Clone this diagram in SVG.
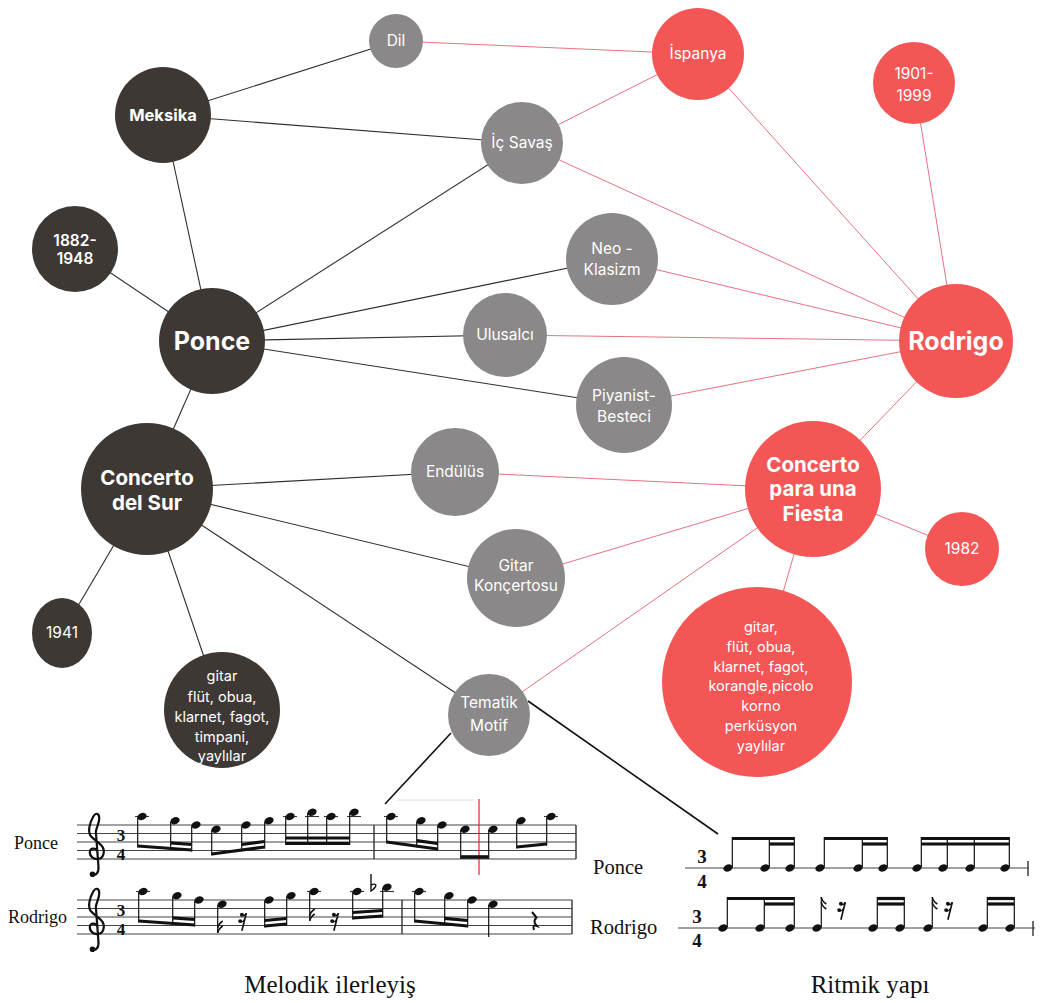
<svg xmlns="http://www.w3.org/2000/svg" xmlns:xlink="http://www.w3.org/1999/xlink" width="1041" height="1003" viewBox="0 0 1041 1003">
<style>
.dk{fill:#3e3834}
.gr{fill:#8a8888}
.rd{fill:#f45656}
.lb{font-family:Inter,"DejaVu Sans",sans-serif;fill:#fff;text-anchor:middle;font-size:15.5px}
.b{font-weight:700}
.ek{stroke:#2e2e2e;stroke-width:1.1}
.er{stroke:#e8727e;stroke-width:1}
.sl{stroke:#444;stroke-width:1.1}
.bar{stroke:#333;stroke-width:1.4}
.stem{stroke:#111;stroke-width:1.2}
.beam{stroke:#111;stroke-width:3.2}
.led{stroke:#333;stroke-width:1.1}
.fl{stroke:#111;stroke-width:1.6;fill:none}
.ser{font-family:"Liberation Serif",serif;fill:#111}
.ts{font-family:"Liberation Serif",serif;font-weight:700;fill:#111;text-anchor:middle}
.nh{fill:#111}
</style>
<defs>
<ellipse id="nh" rx="4.8" ry="3.5" transform="rotate(-22)"/>
<path id="clef" d="M3,3 C3,-3 -5,-4 -6,1 C-7,7 -1,11 4,10 C10,9 12,1 9,-4 C6,-9 -1,-12 -5,-17 C-9,-23 -6,-33 -2,-40 C1,-45 5,-44 5,-38 C5,-32 2,-28 1,-22 L4,18 C5,26 1,30 -3,28" fill="none" stroke="#111" stroke-width="2.6"/>
<g id="r16" fill="#111" stroke="#111">
<path d="M3,-8 L-1,8" stroke-width="1.5" fill="none"/>
<circle cx="-1" cy="-6.5" r="1.8" stroke="none"/>
<path d="M-1,-6 Q1.5,-5 3,-8" stroke-width="1.2" fill="none"/>
<circle cx="-2.6" cy="-0.8" r="1.8" stroke="none"/>
<path d="M-2.6,-0.3 Q0,0.5 1.5,-2.5" stroke-width="1.2" fill="none"/>
</g>
<path id="rq" d="M-1,-10 L3.5,-4.5 Q0.5,-1.5 2,1.5 L4,4 Q-1,2 1,8" fill="none" stroke="#111" stroke-width="2"/>
</defs>
<rect width="1041" height="1003" fill="#fff"/>

<g id="connectors" fill="none">
<g class="ek">
<line x1="163" y1="115" x2="396" y2="41"/>
<line x1="163" y1="115" x2="522" y2="143"/>
<line x1="163" y1="115" x2="212" y2="341"/>
<line x1="75" y1="249" x2="212" y2="341"/>
<line x1="212" y1="341" x2="522" y2="143"/>
<line x1="212" y1="341" x2="612" y2="259"/>
<line x1="212" y1="341" x2="505" y2="335"/>
<line x1="212" y1="341" x2="624" y2="405"/>
<line x1="212" y1="341" x2="147" y2="489"/>
<line x1="147" y1="489" x2="455" y2="472"/>
<line x1="147" y1="489" x2="516" y2="578"/>
<line x1="147" y1="489" x2="489" y2="715"/>
<line x1="147" y1="489" x2="62" y2="633"/>
<line x1="147" y1="489" x2="222" y2="710"/>
</g>
<g class="er">
<line x1="396" y1="41" x2="698" y2="54"/>
<line x1="522" y1="143" x2="698" y2="54"/>
<line x1="698" y1="54" x2="956" y2="341"/>
<line x1="522" y1="143" x2="956" y2="341"/>
<line x1="914" y1="83" x2="956" y2="341"/>
<line x1="612" y1="259" x2="956" y2="341"/>
<line x1="505" y1="335" x2="956" y2="341"/>
<line x1="624" y1="405" x2="956" y2="341"/>
<line x1="956" y1="341" x2="813" y2="489"/>
<line x1="455" y1="472" x2="813" y2="489"/>
<line x1="516" y1="578" x2="813" y2="489"/>
<line x1="489" y1="715" x2="813" y2="489"/>
<line x1="813" y1="489" x2="962" y2="549"/>
<line x1="813" y1="489" x2="757" y2="682"/>
</g>
</g>

<g id="n-dil"><circle class="gr" cx="396" cy="41" r="27"/><text class="lb" x="396" y="46">Dil</text></g>
<g id="n-ispanya"><circle class="rd" cx="698" cy="54" r="46"/><text class="lb" x="698" y="59">İspanya</text></g>
<g id="n-1901"><circle class="rd" cx="914" cy="83" r="41"/><text class="lb" x="914" y="79">1901-</text><text class="lb" x="914" y="101">1999</text></g>
<g id="n-meksika"><circle class="dk" cx="163" cy="115" r="48"/><text class="lb b" x="163" y="121" style="font-size:16.5px">Meksika</text></g>
<g id="n-icsavas"><circle class="gr" cx="522" cy="143" r="41"/><text class="lb" x="522" y="148">İç Savaş</text></g>
<g id="n-1882"><circle class="dk" cx="75" cy="249" r="43"/><text class="lb b" x="75" y="246" style="font-weight:600">1882-</text><text class="lb b" x="75" y="264" style="font-weight:600">1948</text></g>
<g id="n-neo"><circle class="gr" cx="612" cy="259" r="46"/><text class="lb" x="612" y="254">Neo -</text><text class="lb" x="612" y="275">Klasizm</text></g>
<g id="n-ponce"><circle class="dk" cx="212" cy="341" r="53"/><text class="lb b" x="212" y="350" style="font-size:25px">Ponce</text></g>
<g id="n-ulusalci"><circle class="gr" cx="505" cy="335" r="42"/><text class="lb" x="505" y="340">Ulusalcı</text></g>
<g id="n-rodrigo"><circle class="rd" cx="956" cy="341" r="57"/><text class="lb b" x="956" y="350" style="font-size:25px">Rodrigo</text></g>
<g id="n-piyanist"><circle class="gr" cx="624" cy="405" r="48"/><text class="lb" x="624" y="401">Piyanist-</text><text class="lb" x="624" y="422">Besteci</text></g>
<g id="n-cds"><circle class="dk" cx="147" cy="489" r="66"/><text class="lb b" x="147" y="485" style="font-size:20.5px">Concerto</text><text class="lb b" x="147" y="510" style="font-size:20.5px">del Sur</text></g>
<g id="n-endulus"><circle class="gr" cx="455" cy="472" r="44"/><text class="lb" x="455" y="477">Endülüs</text></g>
<g id="n-fiesta"><circle class="rd" cx="813" cy="489" r="68"/><text class="lb b" x="813" y="472" style="font-size:20.5px">Concerto</text><text class="lb b" x="813" y="496" style="font-size:20.5px">para una</text><text class="lb b" x="813" y="521" style="font-size:20.5px">Fiesta</text></g>
<g id="n-1982"><circle class="rd" cx="962" cy="549" r="37"/><text class="lb" x="962" y="554">1982</text></g>
<g id="n-gitarkonc"><circle class="gr" cx="516" cy="578" r="49"/><text class="lb" x="516" y="571">Gitar</text><text class="lb" x="516" y="591">Konçertosu</text></g>
<g id="n-1941"><ellipse class="dk" cx="62" cy="633" rx="30" ry="35"/><text class="lb" x="62" y="638">1941</text></g>
<g id="n-inst-sur"><circle class="dk" cx="222" cy="710" r="58"/>
<text class="lb" x="222" y="681" style="font-size:14.5px">gitar</text>
<text class="lb" x="222" y="702" style="font-size:14.5px">flüt, obua,</text>
<text class="lb" x="222" y="722" style="font-size:14.5px">klarnet, fagot,</text>
<text class="lb" x="222" y="742" style="font-size:14.5px">timpani,</text>
<text class="lb" x="222" y="761" style="font-size:14.5px">yaylılar</text></g>
<g id="n-tematik"><circle class="gr" cx="489" cy="715" r="41"/><text class="lb" x="489" y="708">Tematik</text><text class="lb" x="489" y="731">Motif</text></g>
<g id="n-inst-fiesta"><circle class="rd" cx="757" cy="682" r="95"/>
<text class="lb" x="761" y="632" style="font-size:14.5px">gitar,</text>
<text class="lb" x="761" y="652" style="font-size:14.5px">flüt, obua,</text>
<text class="lb" x="761" y="672" style="font-size:14.5px">klarnet, fagot,</text>
<text class="lb" x="761" y="691" style="font-size:14.5px">korangle,picolo</text>
<text class="lb" x="761" y="711" style="font-size:14.5px">korno</text>
<text class="lb" x="761" y="731" style="font-size:14.5px">perküsyon</text>
<text class="lb" x="761" y="751" style="font-size:14.5px">yaylılar</text></g>

<g id="pointer-lines" stroke="#111" stroke-width="1.6">
<line x1="451" y1="733" x2="385" y2="804"/>
<line x1="528" y1="701" x2="718" y2="834"/>
</g>

<g id="melodic">
<text class="ser" x="14" y="849" style="font-size:18px">Ponce</text>
<text class="ser" x="8" y="923" style="font-size:18px">Rodrigo</text>
<g class="sl">
<line x1="77" y1="825" x2="576" y2="825"/><line x1="77" y1="833.5" x2="576" y2="833.5"/><line x1="77" y1="842" x2="576" y2="842"/><line x1="77" y1="850.5" x2="576" y2="850.5"/><line x1="77" y1="859" x2="576" y2="859"/>
<line x1="77" y1="900" x2="572" y2="900"/><line x1="77" y1="908.5" x2="572" y2="908.5"/><line x1="77" y1="917" x2="572" y2="917"/><line x1="77" y1="925.5" x2="572" y2="925.5"/><line x1="77" y1="934" x2="572" y2="934"/>
</g>
<g class="bar">
<line x1="374" y1="825" x2="374" y2="859"/><line x1="576" y1="825" x2="576" y2="859"/>
<line x1="402" y1="900" x2="402" y2="934"/><line x1="572" y1="900" x2="572" y2="934"/>
</g>
<use href="#clef" transform="translate(95 850.5) scale(0.85)"/>
<circle cx="92.5" cy="874.3" r="2.8" fill="#111"/>
<use href="#clef" transform="translate(95 925.5) scale(0.85)"/>
<circle cx="92.5" cy="949.3" r="2.8" fill="#111"/>
<text class="ts" style="font-size:17px"><tspan x="121" y="840.5">3</tspan><tspan x="121" y="859.5">4</tspan></text>
<text class="ts" style="font-size:17px"><tspan x="121" y="915.5">3</tspan><tspan x="121" y="934.5">4</tspan></text>

<line x1="397" y1="800" x2="474" y2="800" stroke="#dcdcdc" stroke-width="1"/>
<line x1="479" y1="799" x2="479" y2="875" stroke="#e3262b" stroke-width="1.2"/>

<g class="led">
<line x1="135" y1="816.5" x2="149" y2="816.5"/><line x1="283" y1="816.5" x2="297" y2="816.5"/><line x1="305" y1="816.5" x2="319" y2="816.5"/><line x1="324" y1="816.5" x2="338" y2="816.5"/><line x1="347" y1="816.5" x2="361" y2="816.5"/><line x1="384" y1="816.5" x2="398" y2="816.5"/><line x1="544" y1="816.5" x2="558" y2="816.5"/>
<line x1="136" y1="891.5" x2="150" y2="891.5"/><line x1="307" y1="891.5" x2="321" y2="891.5"/><line x1="350" y1="891.5" x2="364" y2="891.5"/><line x1="380" y1="891.5" x2="394" y2="891.5"/><line x1="412" y1="891.5" x2="426" y2="891.5"/>
</g>
<g class="nh">
<use href="#nh" x="142" y="816.5"/><use href="#nh" x="175" y="820.75"/><use href="#nh" x="196" y="825"/>
<use href="#nh" x="216" y="829.25"/><use href="#nh" x="246" y="825"/><use href="#nh" x="269" y="820.75"/>
<use href="#nh" x="290" y="816.5"/><use href="#nh" x="312" y="812.25"/><use href="#nh" x="331" y="816.5"/><use href="#nh" x="354" y="812.25"/>
<use href="#nh" x="391" y="816.5"/><use href="#nh" x="421" y="820.75"/><use href="#nh" x="442" y="825"/>
<use href="#nh" x="465" y="829.25"/><use href="#nh" x="493" y="829.25"/>
<use href="#nh" x="521" y="820.75"/><use href="#nh" x="551" y="816.5"/>
<use href="#nh" x="143" y="891.5"/><use href="#nh" x="177" y="895.75"/><use href="#nh" x="199" y="900"/>
<use href="#nh" x="222" y="904.25"/>
<use href="#nh" x="269" y="900"/><use href="#nh" x="291" y="895.75"/>
<use href="#nh" x="314" y="891.5"/>
<use href="#nh" x="357" y="891.5"/><use href="#nh" x="387" y="887.25"/>
<use href="#nh" x="419" y="891.5"/><use href="#nh" x="449" y="895.75"/><use href="#nh" x="472" y="900"/>
<use href="#nh" x="493" y="904.25"/>
</g>
<g class="stem">
<line x1="137.7" y1="817.5" x2="137.7" y2="847.5"/><line x1="170.7" y1="821.7" x2="170.7" y2="849.9"/><line x1="191.7" y1="826" x2="191.7" y2="851.5"/>
<line x1="211.7" y1="830" x2="211.7" y2="855.5"/><line x1="241.7" y1="826" x2="241.7" y2="851.5"/><line x1="264.7" y1="821.7" x2="264.7" y2="848.5"/>
<line x1="285.7" y1="817.5" x2="285.7" y2="845"/><line x1="307.7" y1="813" x2="307.7" y2="845"/><line x1="326.7" y1="817.5" x2="326.7" y2="845"/><line x1="349.7" y1="813" x2="349.7" y2="845"/>
<line x1="386.7" y1="817.5" x2="386.7" y2="843.5"/><line x1="416.7" y1="821.7" x2="416.7" y2="847.6"/><line x1="437.7" y1="826" x2="437.7" y2="850.5"/>
<line x1="460.7" y1="830" x2="460.7" y2="858.7"/><line x1="488.7" y1="830" x2="488.7" y2="858.7"/>
<line x1="516.7" y1="821.7" x2="516.7" y2="848.5"/><line x1="546.7" y1="817.5" x2="546.7" y2="845.5"/>
<line x1="138.7" y1="892.5" x2="138.7" y2="922.5"/><line x1="172.7" y1="896.7" x2="172.7" y2="924.9"/><line x1="194.7" y1="901" x2="194.7" y2="926.5"/>
<line x1="217.7" y1="905.2" x2="217.7" y2="933"/>
<line x1="264.7" y1="901" x2="264.7" y2="927.5"/><line x1="286.7" y1="896.7" x2="286.7" y2="925.5"/>
<line x1="309.7" y1="892.5" x2="309.7" y2="921"/>
<line x1="352.7" y1="892.5" x2="352.7" y2="919.5"/><line x1="382.7" y1="888.2" x2="382.7" y2="917.5"/>
<line x1="414.7" y1="892.5" x2="414.7" y2="922.5"/><line x1="444.7" y1="896.7" x2="444.7" y2="925.3"/><line x1="467.7" y1="901" x2="467.7" y2="927.5"/>
<line x1="488.7" y1="905" x2="488.7" y2="937"/>
</g>
<g class="beam">
<line x1="137.7" y1="846" x2="191.7" y2="850"/><line x1="170.7" y1="842.9" x2="191.7" y2="844.5"/>
<line x1="211.7" y1="854" x2="264.7" y2="847"/><line x1="241.7" y1="844.5" x2="264.7" y2="841.5"/>
<line x1="285.7" y1="843.5" x2="349.7" y2="843.5"/><line x1="285.7" y1="838" x2="349.7" y2="838"/>
<line x1="386.7" y1="842" x2="437.7" y2="849"/><line x1="416.7" y1="840.6" x2="437.7" y2="843.5"/>
<line x1="460.7" y1="857" x2="488.7" y2="857" style="stroke-width:3.6"/>
<line x1="516.7" y1="847" x2="546.7" y2="844"/>
<line x1="138.7" y1="921" x2="194.7" y2="925"/><line x1="172.7" y1="917.9" x2="194.7" y2="919.5"/>
<line x1="264.7" y1="926" x2="286.7" y2="924"/><line x1="264.7" y1="920.5" x2="286.7" y2="918.5"/>
<line x1="352.7" y1="918" x2="382.7" y2="916"/><line x1="352.7" y1="912.5" x2="382.7" y2="910.5"/>
<line x1="414.7" y1="921" x2="467.7" y2="926"/><line x1="444.7" y1="918.3" x2="467.7" y2="920.5"/>
</g>
<g class="fl">
<path d="M217.7,933 q0.5,-4 5,-7"/><path d="M217.7,928 q0.5,-4 5,-7"/>
<path d="M309.7,921 q0.5,-4 5,-7"/><path d="M309.7,916 q0.5,-4 5,-7"/>
</g>
<path d="M371,874 V891 C377,887 378,882 371,885" fill="none" stroke="#111" stroke-width="1.4"/>
<use href="#r16" transform="translate(243 922) scale(1.1)"/>
<use href="#r16" transform="translate(335 922) scale(1.1)"/>
<use href="#rq" transform="translate(533 922)"/>
</g>

<g id="rhythmic">
<text class="ser" x="593" y="874" style="font-size:20.5px">Ponce</text>
<text class="ser" x="590" y="934" style="font-size:20.5px">Rodrigo</text>
<g class="sl">
<line x1="685" y1="868" x2="1029" y2="868"/>
<line x1="678" y1="928" x2="1035" y2="928"/>
</g>
<g class="bar">
<line x1="1028" y1="861" x2="1028" y2="876"/>
<line x1="1033" y1="921" x2="1033" y2="936"/>
</g>
<text class="ts" style="font-size:19px"><tspan x="702" y="863">3</tspan><tspan x="702" y="888">4</tspan></text>
<text class="ts" style="font-size:19px"><tspan x="697" y="923">3</tspan><tspan x="697" y="947">4</tspan></text>
<g class="nh">
<use href="#nh" x="728" y="868"/><use href="#nh" x="765" y="868"/><use href="#nh" x="790" y="868"/>
<use href="#nh" x="820" y="868"/><use href="#nh" x="858" y="868"/><use href="#nh" x="883" y="868"/>
<use href="#nh" x="917" y="868"/><use href="#nh" x="943" y="868"/><use href="#nh" x="970" y="868"/><use href="#nh" x="1005" y="868"/>
<use href="#nh" x="723" y="928"/><use href="#nh" x="760" y="928"/><use href="#nh" x="790" y="928"/>
<use href="#nh" x="817" y="928"/>
<use href="#nh" x="873" y="928"/><use href="#nh" x="900" y="928"/>
<use href="#nh" x="928" y="928"/>
<use href="#nh" x="983" y="928"/><use href="#nh" x="1010" y="928"/>
</g>
<g class="stem">
<line x1="732.3" y1="867" x2="732.3" y2="837"/><line x1="769.3" y1="867" x2="769.3" y2="837"/><line x1="794.3" y1="867" x2="794.3" y2="837"/>
<line x1="824.3" y1="867" x2="824.3" y2="837"/><line x1="862.3" y1="867" x2="862.3" y2="837"/><line x1="887.3" y1="867" x2="887.3" y2="837"/>
<line x1="921.3" y1="867" x2="921.3" y2="837"/><line x1="947.3" y1="867" x2="947.3" y2="837"/><line x1="974.3" y1="867" x2="974.3" y2="837"/><line x1="1009.3" y1="867" x2="1009.3" y2="837"/>
<line x1="727.3" y1="927" x2="727.3" y2="897"/><line x1="764.3" y1="927" x2="764.3" y2="897"/><line x1="794.3" y1="927" x2="794.3" y2="897"/>
<line x1="821.3" y1="927" x2="821.3" y2="897"/>
<line x1="877.3" y1="927" x2="877.3" y2="897"/><line x1="904.3" y1="927" x2="904.3" y2="897"/>
<line x1="932.3" y1="927" x2="932.3" y2="897"/>
<line x1="987.3" y1="927" x2="987.3" y2="897"/><line x1="1014.3" y1="927" x2="1014.3" y2="897"/>
</g>
<g class="beam">
<line x1="732.3" y1="838.5" x2="794.3" y2="838.5"/><line x1="769.3" y1="844" x2="794.3" y2="844"/>
<line x1="824.3" y1="838.5" x2="887.3" y2="838.5"/><line x1="862.3" y1="844" x2="887.3" y2="844"/>
<line x1="921.3" y1="838.5" x2="1009.3" y2="838.5"/><line x1="921.3" y1="844" x2="1009.3" y2="844"/>
<line x1="727.3" y1="898.5" x2="794.3" y2="898.5"/><line x1="764.3" y1="904" x2="794.3" y2="904"/>
<line x1="877.3" y1="898.5" x2="904.3" y2="898.5"/><line x1="877.3" y1="904" x2="904.3" y2="904"/>
<line x1="987.3" y1="898.5" x2="1014.3" y2="898.5"/><line x1="987.3" y1="904" x2="1014.3" y2="904"/>
</g>
<g class="fl">
<path d="M821.3,897 q0.5,4 5,7"/><path d="M821.3,902 q0.5,4 5,7"/>
<path d="M932.3,897 q0.5,4 5,7"/><path d="M932.3,902 q0.5,4 5,7"/>
</g>
<use href="#r16" transform="translate(842 911) scale(1.1)"/>
<use href="#r16" transform="translate(949 911) scale(1.1)"/>
</g>

<g id="captions">
<text class="ser" x="330" y="993" text-anchor="middle" style="font-size:25px">Melodik ilerleyiş</text>
<text class="ser" x="870" y="993" text-anchor="middle" style="font-size:25px">Ritmik yapı</text>
</g>
</svg>
